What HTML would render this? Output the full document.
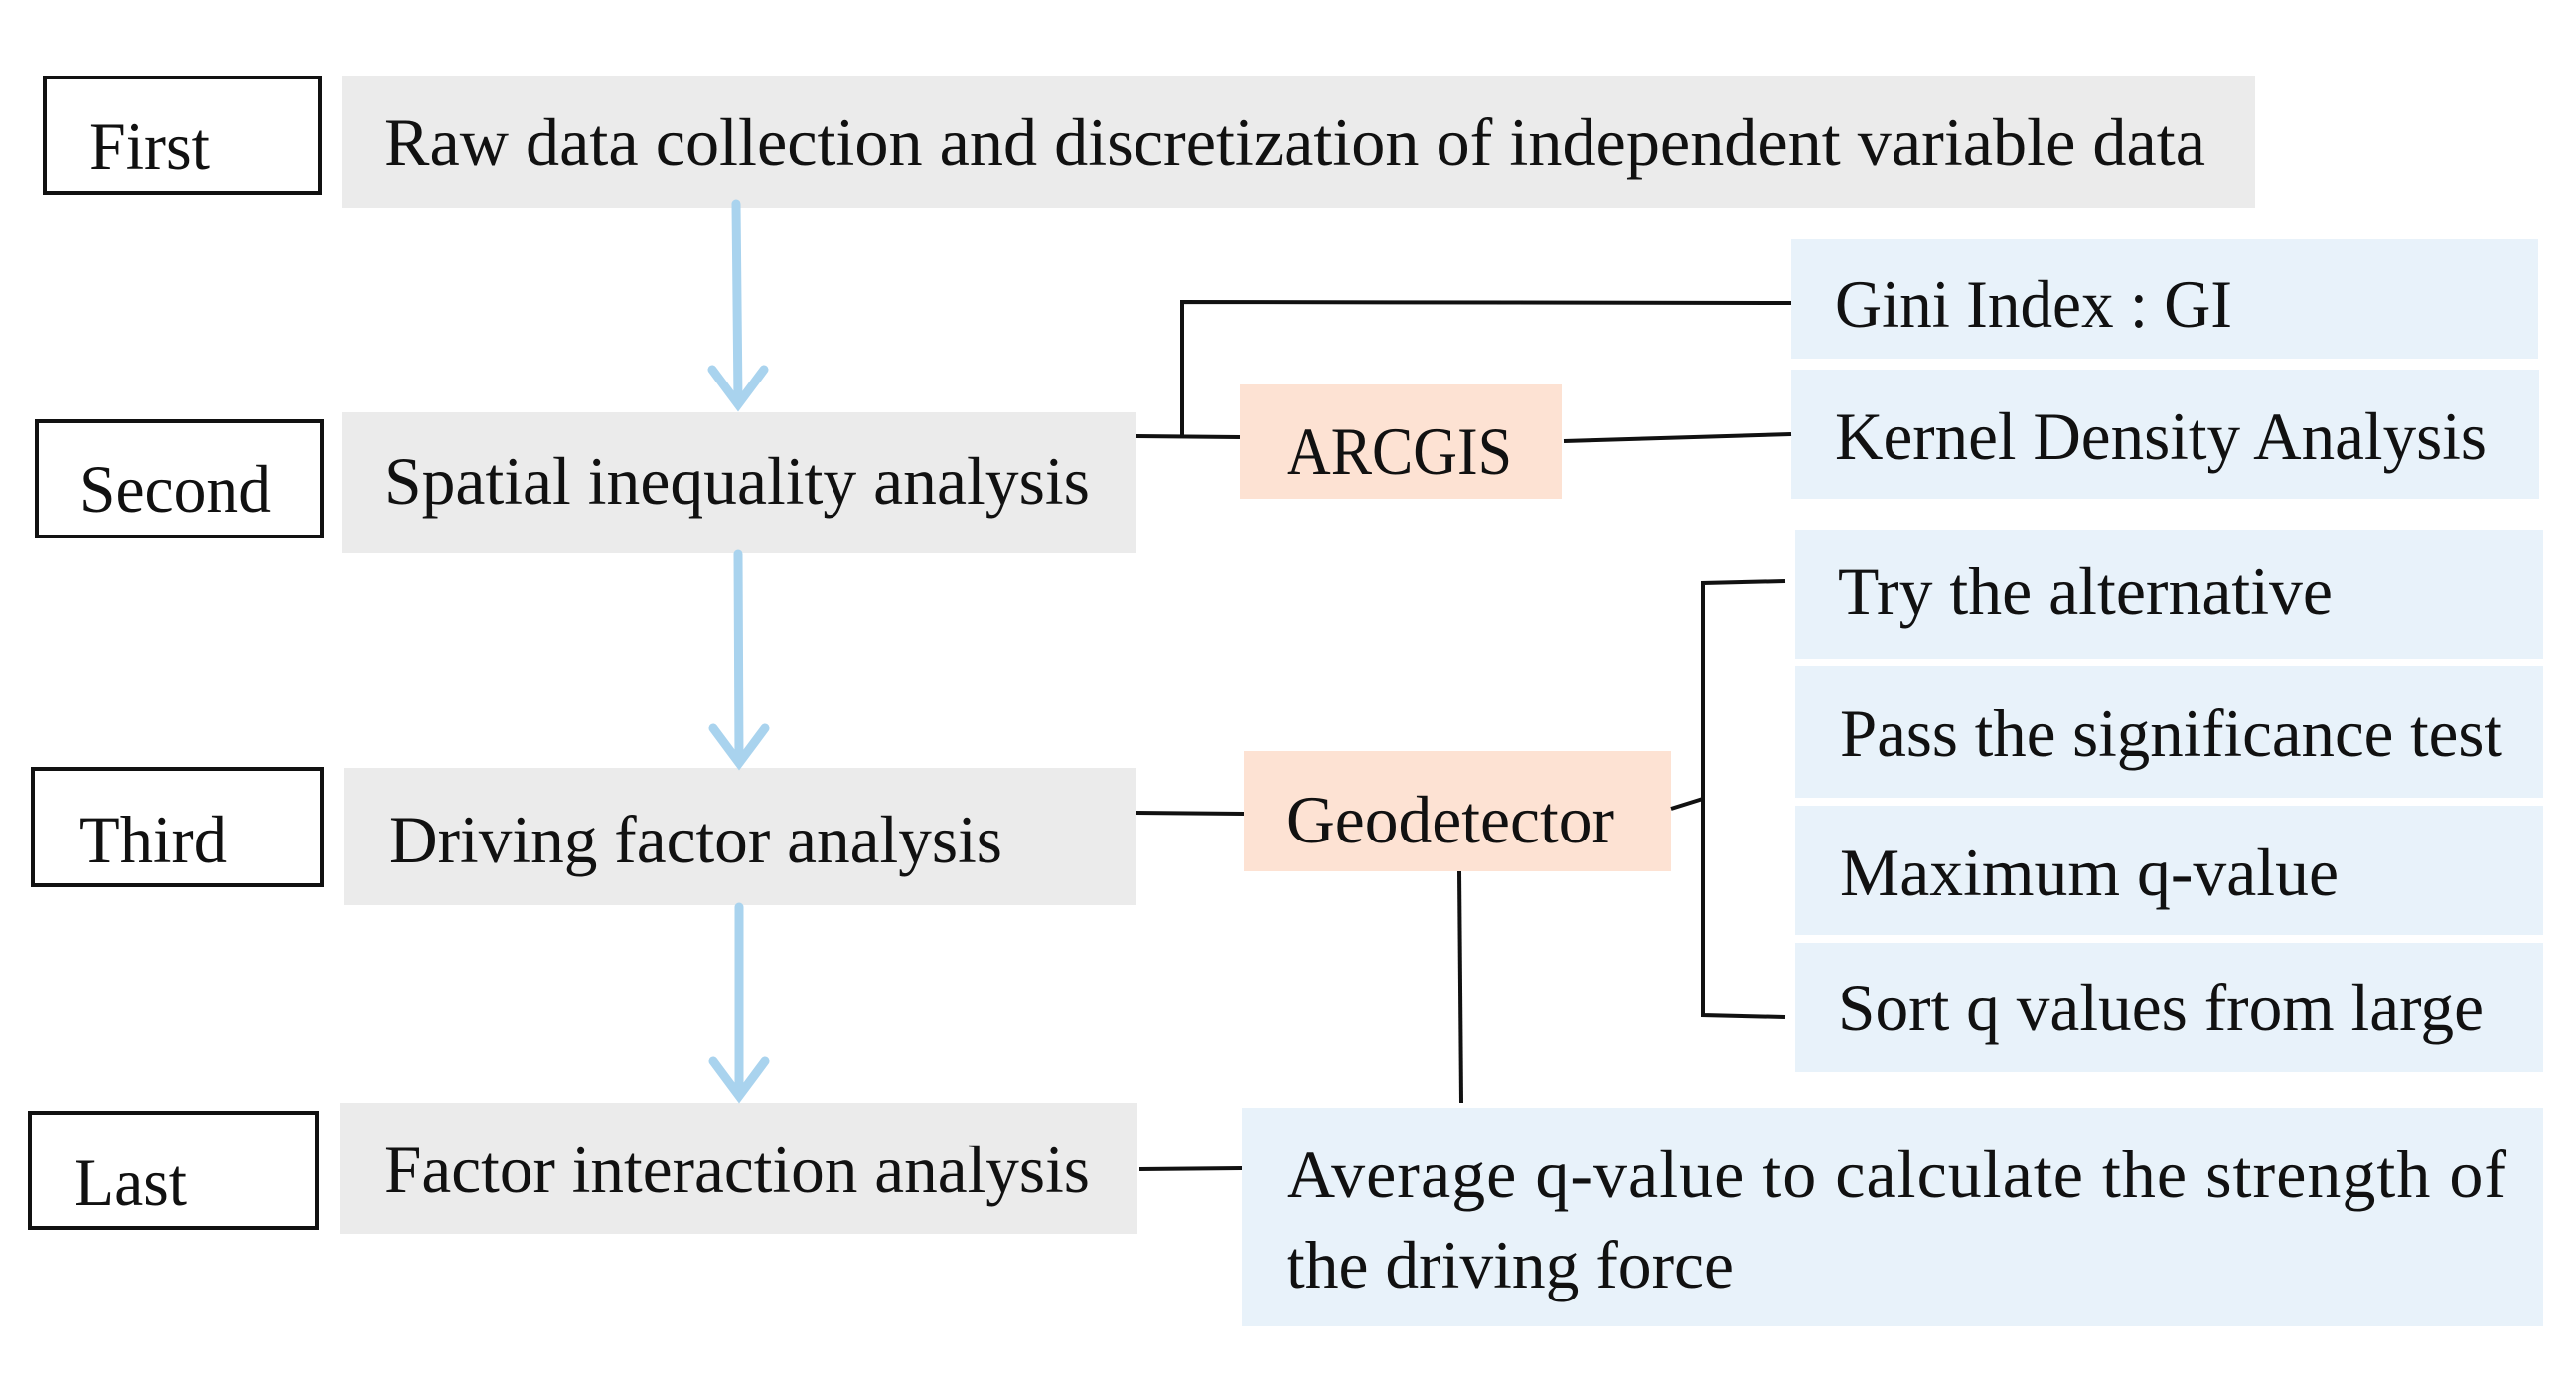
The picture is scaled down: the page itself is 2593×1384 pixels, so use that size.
<!DOCTYPE html>
<html><head><meta charset="utf-8"><style>html,body{margin:0;padding:0;background:#fff}svg{display:block}</style></head>
<body>
<svg width="2593" height="1384" viewBox="0 0 2593 1384" xmlns="http://www.w3.org/2000/svg" font-family="'Liberation Serif', serif" font-size="68" fill="#111">
<defs>
<marker id="ah" markerWidth="10" markerHeight="10" refX="5" refY="8" orient="auto" markerUnits="userSpaceOnUse" viewBox="0 0 10 10"></marker>
</defs>
<!-- gray boxes -->
<rect x="344" y="76" width="1926" height="133" fill="#ebebeb"/>
<rect x="344" y="415" width="799" height="142" fill="#ebebeb"/>
<rect x="346" y="773" width="797" height="138" fill="#ebebeb"/>
<rect x="342" y="1110" width="803" height="132" fill="#ebebeb"/>
<!-- label boxes -->
<g fill="#fff" stroke="#111" stroke-width="4">
<rect x="45" y="78" width="277" height="116"/>
<rect x="37" y="424" width="287" height="116"/>
<rect x="33" y="774" width="291" height="117"/>
<rect x="30" y="1120" width="289" height="116"/>
</g>
<!-- peach boxes -->
<rect x="1248" y="387" width="324" height="115" fill="#fde2d3"/>
<rect x="1252" y="756" width="430" height="121" fill="#fde2d3"/>
<!-- blue boxes -->
<g fill="#e8f2fa">
<rect x="1803" y="241" width="752" height="120"/>
<rect x="1803" y="372" width="753" height="130"/>
<rect x="1807" y="533" width="753" height="130"/>
<rect x="1807" y="670" width="753" height="133"/>
<rect x="1807" y="811" width="753" height="130"/>
<rect x="1807" y="949" width="753" height="130"/>
<rect x="1250" y="1115" width="1310" height="220"/>
</g>
<!-- connectors -->
<g stroke="#111" stroke-width="4" fill="none">
<polyline points="1143,439 1248,440"/>
<polyline points="1190,439 1190,304 1803,305"/>
<line x1="1574" y1="444" x2="1803" y2="437"/>
<line x1="1143" y1="818" x2="1252" y2="819"/>
<line x1="1682" y1="814" x2="1714" y2="804"/>
<polyline points="1797,585 1714,587 1714,1022 1797,1024"/>
<line x1="1469" y1="877" x2="1471" y2="1110"/>
<line x1="1147" y1="1177" x2="1250" y2="1176"/>
</g>
<!-- blue arrows -->
<g stroke="#a9d3ee" stroke-width="9" fill="none" stroke-linecap="round">
<line x1="741" y1="205" x2="743" y2="405"/>
<polyline points="717,372 743,407 769,372"/>
<line x1="743" y1="558" x2="744" y2="766"/>
<polyline points="718,733 744,768 770,733"/>
<line x1="744" y1="913" x2="744" y2="1101"/>
<polyline points="718,1068 744,1103 770,1068"/>
</g>
<!-- text -->
<text x="90" y="170" textLength="121" lengthAdjust="spacingAndGlyphs">First</text>
<text x="80" y="515" textLength="193" lengthAdjust="spacingAndGlyphs">Second</text>
<text x="80" y="868" textLength="148" lengthAdjust="spacingAndGlyphs">Third</text>
<text x="75" y="1213" textLength="113" lengthAdjust="spacingAndGlyphs">Last</text>
<text x="387" y="166" textLength="1833" lengthAdjust="spacingAndGlyphs">Raw data collection and discretization of independent variable data</text>
<text x="387" y="507" textLength="710" lengthAdjust="spacingAndGlyphs">Spatial inequality analysis</text>
<text x="392" y="868" textLength="617" lengthAdjust="spacingAndGlyphs">Driving factor analysis</text>
<text x="387" y="1200" textLength="710" lengthAdjust="spacingAndGlyphs">Factor interaction analysis</text>
<text x="1295" y="477" textLength="227" lengthAdjust="spacingAndGlyphs">ARCGIS</text>
<text x="1295" y="848" textLength="330" lengthAdjust="spacingAndGlyphs">Geodetector</text>
<text x="1847" y="329" textLength="400" lengthAdjust="spacingAndGlyphs">Gini Index : GI</text>
<text x="1847" y="462" textLength="656" lengthAdjust="spacingAndGlyphs">Kernel Density Analysis</text>
<text x="1850" y="618" textLength="498" lengthAdjust="spacingAndGlyphs">Try the alternative</text>
<text x="1852" y="761" textLength="667" lengthAdjust="spacingAndGlyphs">Pass the significance test</text>
<text x="1852" y="901" textLength="502" lengthAdjust="spacingAndGlyphs">Maximum q-value</text>
<text x="1850" y="1037" textLength="650" lengthAdjust="spacingAndGlyphs">Sort q values from large</text>
<text x="1295" y="1205" textLength="1228" lengthAdjust="spacing">Average q-value to calculate the strength of</text>
<text x="1295" y="1296" textLength="450" lengthAdjust="spacingAndGlyphs">the driving force</text>
</svg>
</body></html>
